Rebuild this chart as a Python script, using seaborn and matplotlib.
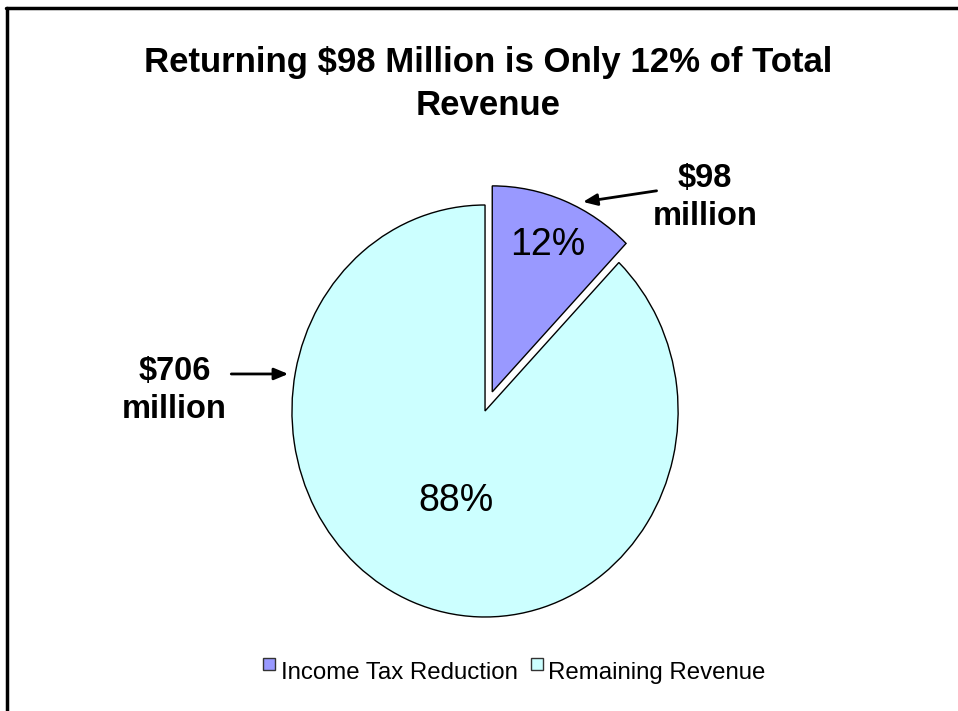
import numpy as np
import matplotlib
matplotlib.use("Agg")
import matplotlib.pyplot as plt
from matplotlib.lines import Line2D
from matplotlib.patches import Rectangle
from matplotlib.legend_handler import HandlerPatch
import seaborn as sns

# Revenue split (millions of dollars)
categories = ["Income Tax Reduction", "Remaining Revenue"]
amounts = [98, 706]
amount_labels = ["$98\nmillion", "$706\nmillion"]
slice_colors = ["#9999FF", "#CCFFFF"]
title_text = "Returning $98 Million is Only 12% of Total\nRevenue"

sns.set_theme(style="white")
plt.rcParams["font.family"] = ["Liberation Sans", "DejaVu Sans"]
plt.rcParams["text.color"] = "black"
palette = sns.color_palette(slice_colors)

fig = plt.figure(figsize=(9.58, 7.11), dpi=100)
fig.patch.set_facecolor("white")

# pie is drawn slightly taller than wide
ax = fig.add_axes([0.2443, 0.0453, 0.524, 0.7533])
wedges, texts, autotexts = ax.pie(
    amounts,
    colors=palette,
    startangle=90,
    counterclock=False,
    explode=[0.1, 0.0],
    autopct="%1.0f%%",
    wedgeprops=dict(edgecolor="black", linewidth=1.0),
    textprops=dict(fontsize=27, color="black"),
)
ax.set_aspect("auto")
ax.set_xlim(-1.3, 1.3)
ax.set_ylim(-1.3, 1.3)
ax.axis("off")

# place percentage labels inside each wedge
pct_dist = [0.77, 0.46]
pct_shift = [0.0, 3.0]
for w, t, d, s in zip(wedges, autotexts, pct_dist, pct_shift):
    ang = np.deg2rad((w.theta1 + w.theta2) / 2 + s)
    cx, cy = w.center
    t.set_position((cx + d * np.cos(ang), cy + d * np.sin(ang)))
    t.set_ha("center")
    t.set_va("center")

# amount callouts with arrows pointing at each wedge's rim
head_angles = [63.0, 170.0]
text_offsets = [(88, 3), (-82, -12)]
tail_offsets = [(53, 8), (-41, 0)]
for w, lab, a, off, toff in zip(wedges, amount_labels, head_angles,
                                text_offsets, tail_offsets):
    ang = np.deg2rad(a)
    cx, cy = w.center
    head = (cx + 1.035 * np.cos(ang), cy + 1.035 * np.sin(ang))
    ax.annotate(
        lab, xy=head, xytext=off, textcoords="offset points",
        ha="center", va="center", fontsize=23.5, fontweight="bold",
        multialignment="center", linespacing=1.3,
    )
    ax.annotate(
        "", xy=head, xytext=toff, textcoords="offset points",
        arrowprops=dict(arrowstyle="-|>,head_length=0.6,head_width=0.25",
                        color="black", lw=2, mutation_scale=14,
                        shrinkA=0, shrinkB=0),
    )

fig.text(0.51, 0.8819, title_text, ha="center", va="center",
         fontsize=25, fontweight="bold", linespacing=1.38)


def raised_square(legend, orig_handle, xdescent, ydescent, width, height, fontsize):
    size = height * 0.72
    return Rectangle((-xdescent, -ydescent + height * 0.55), size, size)


fig.legend(
    wedges, categories, loc="center", bbox_to_anchor=(0.537, 0.053),
    ncol=2, frameon=False, fontsize=17.3, handlelength=0.65, handleheight=0.7,
    handletextpad=0.08, columnspacing=0.55,
    handler_map={w: HandlerPatch(patch_func=raised_square) for w in wedges},
)
for h in fig.legends[0].legend_handles:
    h.set_edgecolor("#333333")
    h.set_linewidth(1.0)

# slide frame along the top and left edges
fig.add_artist(Line2D([6 / 958, 1.0], [1 - 8 / 711, 1 - 8 / 711],
                      transform=fig.transFigure, color="black", lw=2.5))
fig.add_artist(Line2D([7 / 958, 7 / 958], [0.0, 1 - 8 / 711],
                      transform=fig.transFigure, color="black", lw=2.5))

fig.savefig("out.png", dpi=100, facecolor="white")
